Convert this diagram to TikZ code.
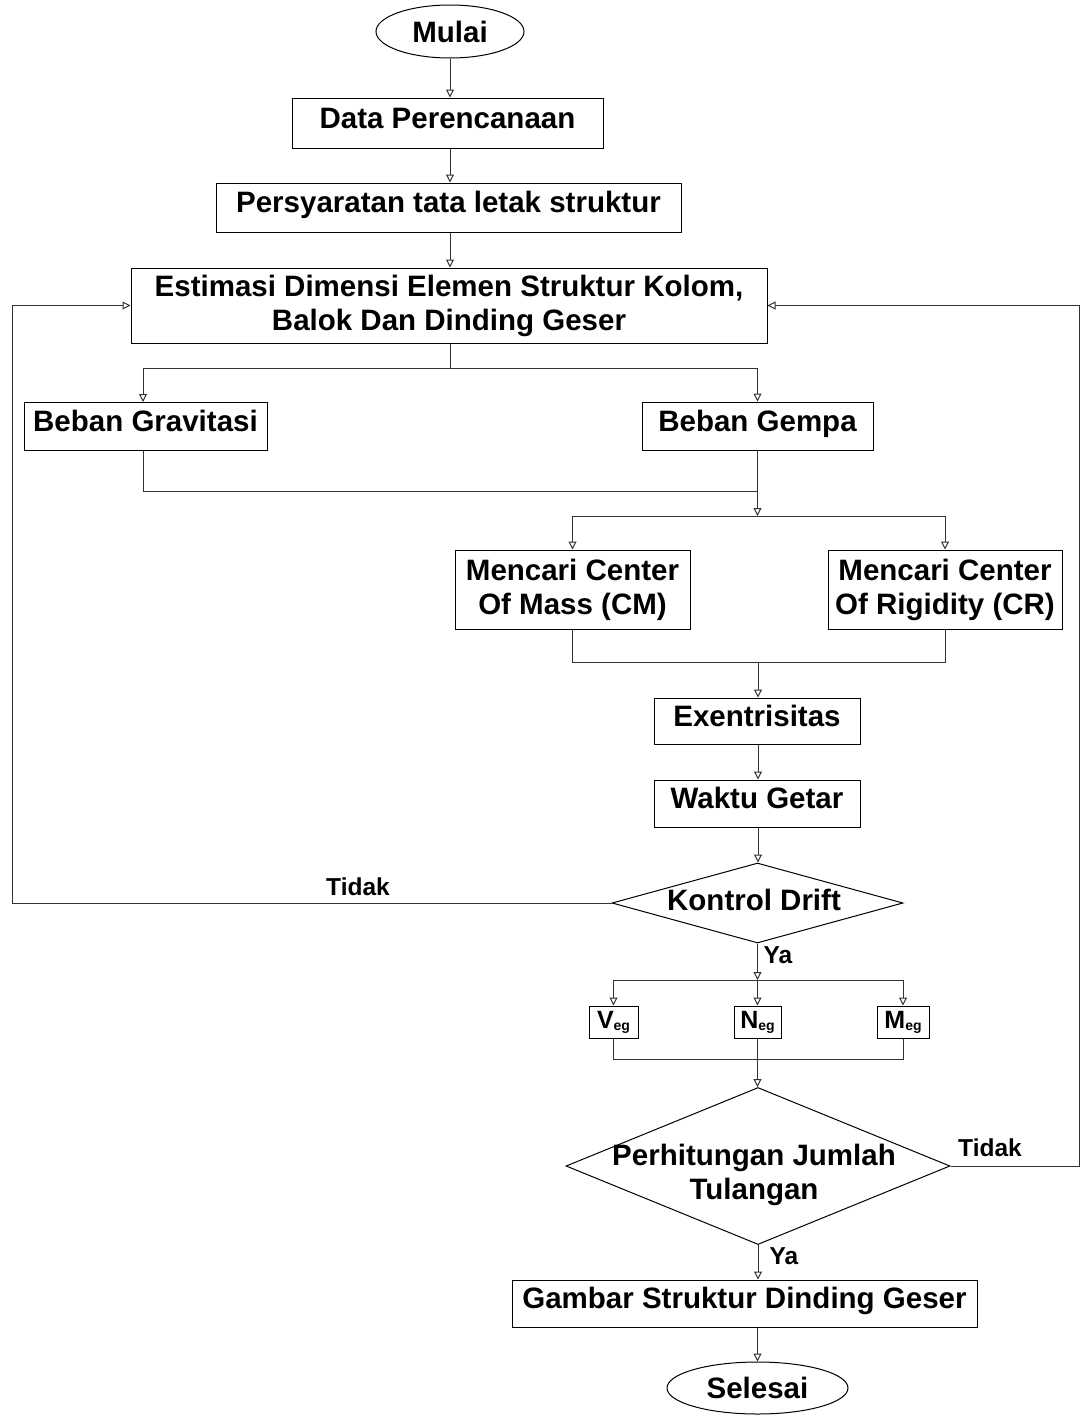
\documentclass[tikz,border=0pt]{standalone}
\usepackage{fontspec}
\setmainfont{Liberation Sans}
\usetikzlibrary{arrows.meta,shapes.geometric}
\begin{document}
\begin{tikzpicture}[x=1pt,y=-1pt,
  font=\fontsize{29.5}{34}\selectfont\bfseries,
  box/.style={draw=black,line width=1pt,rectangle,inner sep=1pt,align=center,text height=21pt,text depth=11pt},
  box2/.style={draw=black,line width=1pt,rectangle,inner sep=1pt,align=center},
  sbox/.style={draw=black,line width=1pt,rectangle,inner sep=0pt,minimum height=32,font=\fontsize{25}{28}\selectfont\bfseries},
  oval/.style={draw=black,line width=1pt,ellipse,inner sep=0pt},
  dia/.style={draw=black,line width=1pt,diamond,inner sep=0pt},
  conn/.style={draw=black!80,line width=1pt},
  arr/.style={conn,-{Triangle[open,length=8pt,width=8pt]}},
  lbl/.style={inner sep=0pt},
  small/.style={inner sep=0pt,font=\fontsize{24.5}{28}\selectfont\bfseries}]
\newcommand{\subeg}{\raisebox{-2pt}{\fontsize{14}{14}\selectfont eg}}
\useasboundingbox (0,0) rectangle (1080,1416);
\node[oval,minimum width=148,minimum height=53] (start) at (450,31.5) {Mulai};
\node[box,minimum width=311,minimum height=50] (data) at (447.5,123) {Data Perencanaan};
\node[box,minimum width=465,minimum height=49] (syarat) at (448.5,207.5) {Persyaratan tata letak struktur};
\node[box2,minimum width=636,minimum height=75] (est) at (449,305.5) {Estimasi Dimensi Elemen Struktur Kolom,\\Balok Dan Dinding Geser};
\node[box,minimum width=243,minimum height=48] (grav) at (145.5,426) {Beban Gravitasi};
\node[box,minimum width=231,minimum height=48] (gempa) at (757.5,426) {Beban Gempa};
\node[box2,minimum width=235,minimum height=79] (cm) at (572.5,589.5) {Mencari Center\\Of Mass (CM)};
\node[box2,minimum width=234,minimum height=79] (cr) at (945,589.5) {Mencari Center\\Of Rigidity (CR)};
\node[box,minimum width=206,minimum height=46] (ex) at (757,721) {Exentrisitas};
\node[box,minimum width=206,minimum height=47] (wg) at (757,803.5) {Waktu Getar};
\node[dia,minimum width=291,minimum height=80] (kd) at (757.5,903) {};
\node[lbl] (kdt) at (754,900) {Kontrol Drift};
\node[sbox,minimum width=49] (veg) at (613.5,1022) {V\subeg};
\node[sbox,minimum width=47] (neg) at (757.5,1022) {N\subeg};
\node[sbox,minimum width=52] (meg) at (903,1022) {M\subeg};
\node[dia,minimum width=384,minimum height=157] (ph) at (758,1166) {};
\node[lbl,align=center] (pht) at (754,1175) {Perhitungan Jumlah\\Tulangan};
\node[box,minimum width=465,minimum height=47] (gm) at (744.5,1303.5) {Gambar Struktur Dinding Geser};
\node[oval,minimum width=181,minimum height=52] (end) at (757.5,1388) {Selesai};
% main flow
\draw[arr] (start.south) -- (start.south |- data.north);
\draw[arr] (data.south -| start.south) -- (start.south |- syarat.north);
\draw[arr] (syarat.south -| start.south) -- (start.south |- est.north);
\coordinate (j1) at (450,368);
\draw[conn] (est.south -| j1) -- (j1);
\draw[arr] (j1) -| (143,402);
\draw[arr] (j1) -| (gempa.north);
\coordinate (j2) at (757.5,491);
\coordinate (j3) at (757.5,516);
\draw[conn] (grav.south -| 143,0) |- (j2);
\draw[conn] (gempa.south) -- (j2);
\draw[arr] (j2) -- (j3);
\draw[arr] (j3) -| (cm.north);
\draw[arr] (j3) -| (cr.north);
\coordinate (j4) at (758,662);
\draw[conn] (cm.south) |- (j4);
\draw[conn] (cr.south) |- (j4);
\draw[arr] (j4) -- (j4 |- ex.north);
\draw[arr] (ex.south -| j4) -- (j4 |- wg.north);
\draw[arr] (wg.south -| j4) -- (j4 |- kd.north);
\coordinate (j5) at (757.5,980);
\draw[arr] (kd.south) -- (j5);
\node[small] (ya1) at (778,955) {Ya};
\draw[arr] (j5) -| (veg.north);
\draw[arr] (j5) -- (neg.north);
\draw[arr] (j5) -| (meg.north);
\coordinate (j6) at (757.5,1059);
\draw[conn] (veg.south) |- (j6);
\draw[conn] (meg.south) |- (j6);
\draw[arr] (neg.south) -- (neg.south |- ph.north);
\draw[arr] (ph.south) -- (ph.south |- gm.north);
\node[small] (ya2) at (784,1256) {Ya};
\draw[arr] (gm.south -| end.north) -- (end.north);
% feedback loops
\coordinate (l1) at (12,903);
\draw[arr] (kd.west) -- (l1) |- (est.west);
\node[small] (t1) at (358,887) {Tidak};
\coordinate (r1) at (1079.5,1163);
\draw[arr] (ph.east) -- (ph.east -| r1) |- (est.east);
\node[small] (t2) at (990,1148) {Tidak};
\end{tikzpicture}
\end{document}
